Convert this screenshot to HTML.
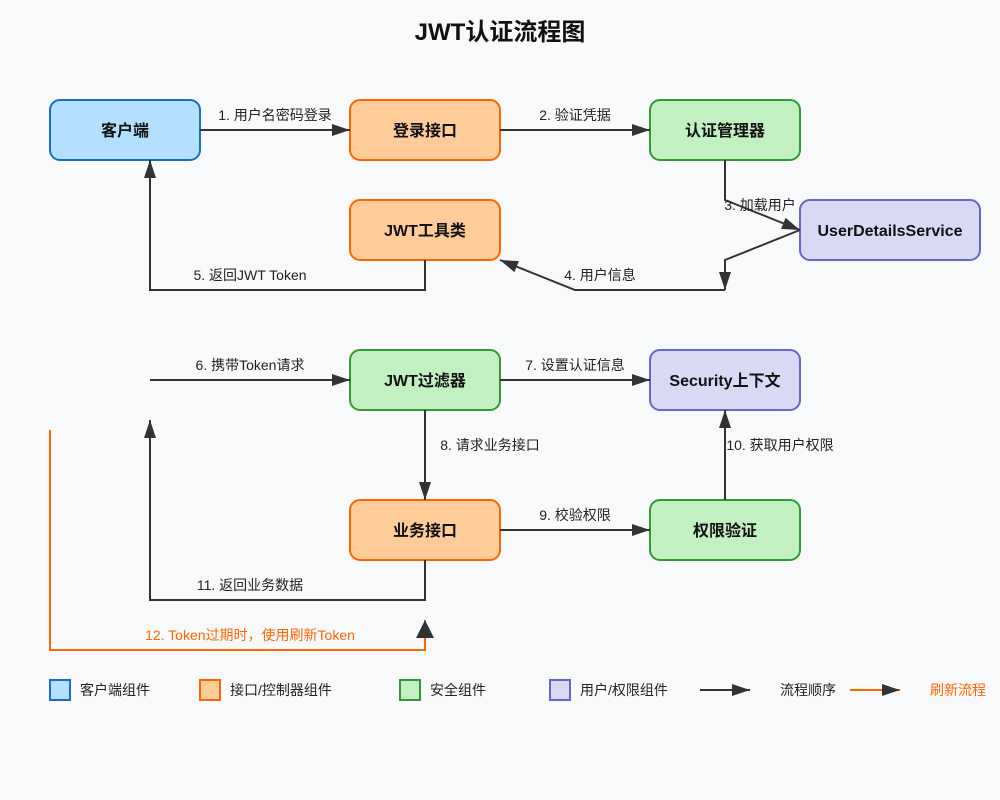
<!DOCTYPE html>
<html><head><meta charset="utf-8"><style>body{margin:0;background:#f8f9fa}svg{display:block}text{font-family:"Liberation Sans","Noto Sans CJK SC",sans-serif}</style></head><body>
<svg width="1000" height="800" viewBox="0 0 1000 800" xmlns="http://www.w3.org/2000/svg">
<defs><marker id="a" markerWidth="18" markerHeight="12" refX="18" refY="6" orient="auto" markerUnits="userSpaceOnUse"><path d="M0,0 L18,6 L0,12 z" fill="#333"/></marker></defs>
<rect width="1000" height="800" fill="#f8f9fa"/>
<text x="500" y="40" text-anchor="middle" font-size="24" font-weight="bold" fill="#111">JWT认证流程图</text>
<g stroke-width="2">
<rect x="50" y="100" width="150" height="60" rx="10" fill="#b3e0ff" stroke="#1a6fc4"/>
<rect x="350" y="100" width="150" height="60" rx="10" fill="#ffcc99" stroke="#ff6600"/>
<rect x="650" y="100" width="150" height="60" rx="10" fill="#c2f0c2" stroke="#339933"/>
<rect x="350" y="200" width="150" height="60" rx="10" fill="#ffcc99" stroke="#ff6600"/>
<rect x="800" y="200" width="180" height="60" rx="10" fill="#d9d9f3" stroke="#6666cc"/>
<rect x="350" y="350" width="150" height="60" rx="10" fill="#c2f0c2" stroke="#339933"/>
<rect x="650" y="350" width="150" height="60" rx="10" fill="#d9d9f3" stroke="#6666cc"/>
<rect x="350" y="500" width="150" height="60" rx="10" fill="#ffcc99" stroke="#ff6600"/>
<rect x="650" y="500" width="150" height="60" rx="10" fill="#c2f0c2" stroke="#339933"/>
</g>
<g font-size="16" font-weight="bold" text-anchor="middle" fill="#111">
<text x="125" y="136">客户端</text><text x="425" y="136">登录接口</text><text x="725" y="136">认证管理器</text>
<text x="425" y="236">JWT工具类</text><text x="890" y="236">UserDetailsService</text>
<text x="425" y="386">JWT过滤器</text><text x="725" y="386">Security上下文</text>
<text x="425" y="536">业务接口</text><text x="725" y="536">权限验证</text>
</g>
<g stroke="#333" stroke-width="2" fill="none" marker-end="url(#a)">
<path d="M200,130 H350"/><path d="M500,130 H650"/>
<path d="M725,160 V200 L800,230"/>
<path d="M800,230 L725,260 V290"/>
<path d="M725,290 H575 L500,260"/>
<path d="M425,260 V290 H150 V160"/>
<path d="M150,380 H350"/><path d="M500,380 H650"/>
<path d="M425,410 V500"/><path d="M725,500 V410"/>
<path d="M500,530 H650"/>
<path d="M425,560 V600 H150 V420"/>
<path d="M700,690 H750"/>
</g>
<path d="M50,430 V650 H425 V620" stroke="#ff6600" stroke-width="2" fill="none"/>
<path d="M416,638 L425,620 L434,638 z" fill="#333"/>
<path d="M850,690 H900" stroke="#ff6600" stroke-width="2" fill="none" marker-end="url(#a)"/>
<g font-size="14" fill="#222" text-anchor="middle">
<text x="275" y="120">1. 用户名密码登录</text><text x="575" y="120">2. 验证凭据</text>
<text x="760" y="210">3. 加载用户</text><text x="600" y="280">4. 用户信息</text>
<text x="250" y="280">5. 返回JWT Token</text><text x="250" y="370">6. 携带Token请求</text>
<text x="575" y="370">7. 设置认证信息</text><text x="490" y="450">8. 请求业务接口</text>
<text x="575" y="520">9. 校验权限</text><text x="780" y="450">10. 获取用户权限</text>
<text x="250" y="590">11. 返回业务数据</text>
<text x="250" y="640" fill="#ff6600">12. Token过期时，使用刷新Token</text>
</g>
<g stroke-width="2">
<rect x="50" y="680" width="20" height="20" fill="#b3e0ff" stroke="#1a6fc4"/>
<rect x="200" y="680" width="20" height="20" fill="#ffcc99" stroke="#ff6600"/>
<rect x="400" y="680" width="20" height="20" fill="#c2f0c2" stroke="#339933"/>
<rect x="550" y="680" width="20" height="20" fill="#d9d9f3" stroke="#6666cc"/>
</g>
<g font-size="14" fill="#222">
<text x="80" y="695">客户端组件</text><text x="230" y="695">接口/控制器组件</text>
<text x="430" y="695">安全组件</text><text x="580" y="695">用户/权限组件</text>
<text x="780" y="695">流程顺序</text><text x="930" y="695" fill="#ff6600">刷新流程</text>
</g>
</svg>
</body></html>
